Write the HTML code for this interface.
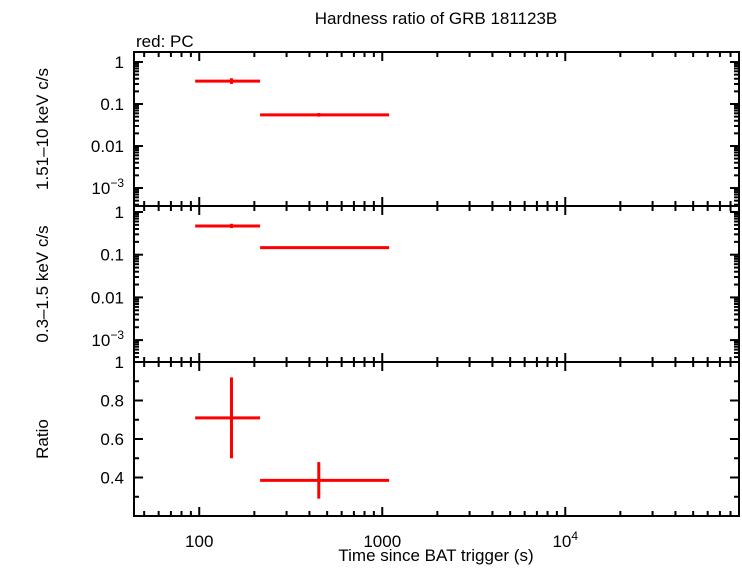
<!DOCTYPE html>
<html><head><meta charset="utf-8"><style>
body{margin:0;background:#fff;font-family:"Liberation Sans",sans-serif}
svg text{font-family:"Liberation Sans",sans-serif;font-size:17px;fill:#000}
</style></head><body>
<svg id="c" width="742" height="566"></svg>
<script>
const xLo=[95,215], xHi=[215,1090], xMid=[150,450];
const hardVal=[0.35,0.055], hardLo=[0.30,0.050], hardHi=[0.41,0.061];
const softVal=[0.47,0.146], softLo=[0.42,0.138], softHi=[0.53,0.155];
const ratioVal=[0.71,0.385], ratioLo=[0.50,0.29], ratioHi=[0.92,0.48];
const logTicks=[1,0.1,0.01,0.001];
const logLabels=["1","0.1","0.01","10^-3"];
const ratioTicks=[1,0.8,0.6,0.4];
const xTicks=[100,1000,10000];
const xLabels=["100","1000","10^4"];

const NS="http://www.w3.org/2000/svg", svg=document.getElementById('c');
const L=134,R=739;
const xs=v=>L+(Math.log10(v)-Math.log10(44))*(R-L)/(Math.log10(89000)-Math.log10(44));
const P=[{t:52,b:206,ys:v=>62-Math.log10(v)*42},{t:206,b:362,ys:v=>212-Math.log10(v)*42.7},{t:362,b:516,ys:v=>362+(1-v)*192.5}];
function el(tag,a,p){const e=document.createElementNS(NS,tag);for(const k in a)e.setAttribute(k,a[k]);(p||svg).appendChild(e);return e;}
function txt(x,y,s,anch,name){const t=el('text',{x:x,y:y,'text-anchor':anch||'middle'});
 if(s.includes('^')){const [a,b]=s.split('^');t.textContent=a;const ts=el('tspan',{dy:-7,'font-size':12},t);ts.textContent=b.replace('-','\u2212');}
 else t.textContent=s;
 
 return t;}
function ln(x1,y1,x2,y2,c,w,name){const l=el('line',{x1:x1,y1:y1,x2:x2,y2:y2,stroke:c,'stroke-width':w});
 
 return l;}

P.forEach((p,i)=>{
 const r=el('rect',{x:L,y:p.t,width:R-L,height:p.b-p.t,fill:'none',stroke:'#000','stroke-width':2});
 
 
 for(let d=1;d<=5;d++)for(let m=1;m<10;m++){const v=m*Math.pow(10,d);const x=xs(v);if(x<=L||x>=R)continue;
  const len=m==1?9:5;ln(x,p.t,x,p.t+len,'#000',2,'x-tick');ln(x,p.b,x,p.b-len,'#000',2,'x-tick');}
 if(i<2){
  for(let d=-4;d<=0;d++)for(let m=1;m<10;m++){const v=m*Math.pow(10,d);const y=p.ys(v);if(y<p.t||y>p.b)continue;
   const len=m==1?9:5;ln(L,y,L+len,y,'#000',2,'y-tick');ln(R,y,R-len,y,'#000',2,'y-tick');}
  logTicks.forEach((v,k)=>txt(L-10,p.ys(v)+6,logLabels[k],'end','y-tick-label'));
 } else {
  for(let v=0.2;v<=1.001;v+=0.1){const y=p.ys(v);const len=Math.abs(v*10%2)<0.01||Math.abs(v*10%2-2)<0.01?9:5;ln(L,y,L+len,y,'#000',2,'y-tick');ln(R,y,R-len,y,'#000',2,'y-tick');}
  ratioTicks.forEach(v=>txt(L-10,p.ys(v)+6,v==1?'1':v.toFixed(1),'end','y-tick-label'));
 }
});
const series=[[hardVal,hardLo,hardHi],[softVal,softLo,softHi],[ratioVal,ratioLo,ratioHi]];
series.forEach((s,i)=>{const p=P[i];
 for(let k=0;k<xMid.length;k++){
  ln(xs(xLo[k]),p.ys(s[0][k]),xs(xHi[k]),p.ys(s[0][k]),'#f00',3,'data-xerr-'+(i+1)+'-'+k);
  ln(xs(xMid[k]),p.ys(s[1][k]),xs(xMid[k]),p.ys(s[2][k]),'#f00',3,'data-yerr-'+(i+1)+'-'+k);
 }});
xTicks.forEach((v,k)=>txt(xs(v),547,xLabels[k],'middle','x-tick-label'));
txt(436,24,'Hardness ratio of GRB 181123B','middle','chart-title');
txt(136,47,'red: PC','start','legend-label');
txt(436,561,'Time since BAT trigger (s)','middle','x-axis-title');
const yt=[['1.51\u201310 keV c/s',129,'y-axis-title-hard'],['0.3\u20131.5 keV c/s',284,'y-axis-title-soft'],['Ratio',439,'y-axis-title-ratio']];
yt.forEach(a=>{const t=txt(48,a[1],a[0],'middle',a[2]);t.setAttribute('transform','rotate(-90 48 '+a[1]+')');});
</script>
</body></html>
